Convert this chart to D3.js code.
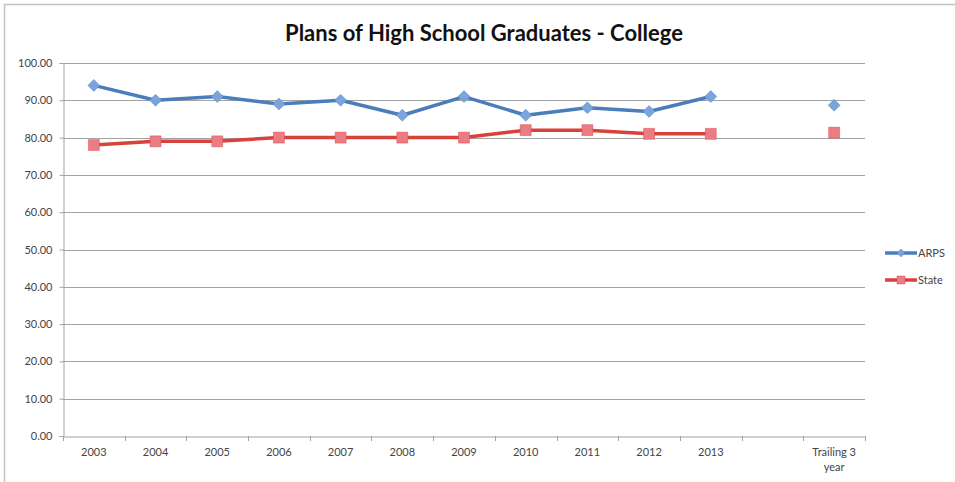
<!DOCTYPE html>
<html><head><meta charset="utf-8">
<script src="https://cdn.jsdelivr.net/npm/d3@7/dist/d3.min.js"></script>
<style>body{margin:0;background:#fff}svg{display:block}</style>
</head><body>
<svg id="c" width="955" height="482"></svg>
<script>
const categories = ["2003","2004","2005","2006","2007","2008","2009","2010","2011","2012","2013","","Trailing 3 year"];
const arps  = [94, 90, 91, 89, 90, 86, 91, 86, 88, 87, 91, null, 88.67];
const state = [78, 79, 79, 80, 80, 80, 80, 82, 82, 81, 81, null, 81.33];
const yTicks = [0,10,20,30,40,50,60,70,80,90,100];
const title = "Plans of High School Graduates - College";

const svg = d3.select("#c");
const L = 63, R = 865, T = 63, B = 436;
const x = d3.scaleBand().domain(categories.map((c,i)=>i)).range([L,R]);
const y = d3.scaleLinear().domain([0,100]).range([B,T]);
const font = "Lato, 'Open Sans', sans-serif";
const gridC = "#a3a3a3";

svg.append("rect").attr("x",4.5).attr("y",4.5).attr("width",955).attr("height",490)
  .attr("fill","none").attr("stroke","#c4c4c4").attr("stroke-width",1.5);

svg.append("text").attr("x",484).attr("y",41).attr("text-anchor","middle")
  .attr("font-family",font).attr("font-weight","bold").attr("font-size",22)
  .attr("fill","#111").text(title);

svg.append("g").selectAll("line").data(yTicks.filter(d=>d>0)).join("line")
  .attr("x1",L).attr("x2",R).attr("y1",d=>Math.round(y(d))+0.5).attr("y2",d=>Math.round(y(d))+0.5)
  .attr("stroke",gridC).attr("stroke-width",1);

const ya = svg.append("g").attr("transform",`translate(${L+0.5},0)`)
  .call(d3.axisLeft(y).tickValues(yTicks).tickFormat(d3.format(".2f")).tickSize(4).tickPadding(7));
ya.select(".domain").attr("stroke",gridC);
ya.selectAll(".tick line").attr("stroke",gridC);
ya.selectAll(".tick text").attr("font-family",font).attr("font-size",11).attr("fill","#444");

const xa = svg.append("g").attr("transform",`translate(0,${B+0.5})`)
  .call(d3.axisBottom(x).tickSize(0).tickPadding(10).tickFormat(()=>""));
xa.select(".domain").attr("stroke",gridC);
svg.append("g").selectAll("line").data(categories.map((c,i)=>i).concat([categories.length])).join("line")
  .attr("x1",i=>Math.round(L + i*x.step())+0.5).attr("x2",i=>Math.round(L + i*x.step())+0.5)
  .attr("y1",B).attr("y2",B+5).attr("stroke",gridC);
const lab = svg.append("g").selectAll("text").data(categories.map((c,i)=>({c,i}))).join("text")
  .attr("x",d=>x(d.i)+x.bandwidth()/2).attr("y",B+20).attr("text-anchor","middle")
  .attr("font-family",font).attr("font-size",11).attr("fill","#444");
lab.each(function(d){
  const t = d3.select(this);
  if (d.c === "Trailing 3 year") {
    t.append("tspan").attr("x",x(d.i)+x.bandwidth()/2).attr("dy",0).text("Trailing 3");
    t.append("tspan").attr("x",x(d.i)+x.bandwidth()/2).attr("dy",15).text("year");
  } else t.text(d.c);
});

const cx = i => x(i)+x.bandwidth()/2;
const line = d3.line().defined(d=>d.v!=null).x(d=>cx(d.i)).y(d=>y(d.v));
const diamond = r => `M0,${-r}L${r},0L0,${r}L${-r},0Z`;
const square = r => `M${-r},${-r}H${r}V${r}H${-r}Z`;
const seriesList = [
  {name:"ARPS", data:arps, stroke:"#4a7ebb", fill:"#7aa5dc", mk:diamond, r:6},
  {name:"State", data:state, stroke:"#d9413b", fill:"#ec7c84", mk:square, r:5.5}
];
seriesList.forEach(s=>{
  const pts = s.data.map((v,i)=>({v,i}));
  svg.append("path").datum(pts.slice(0,11)).attr("d",line).attr("fill","none")
    .attr("stroke",s.stroke).attr("stroke-width",3.5).attr("stroke-linejoin","round");
  svg.append("g").selectAll("path").data(pts.filter(d=>d.v!=null)).join("path")
    .attr("d",s.mk(s.r)).attr("transform",d=>`translate(${cx(d.i)},${y(d.v)})`)
    .attr("fill",s.fill).attr("stroke",s.stroke).attr("stroke-width",0.7).attr("stroke-opacity",0.6);
});

const leg = [{name:"ARPS", s:seriesList[0], y:253},{name:"State", s:seriesList[1], y:280}];
leg.forEach(l=>{
  svg.append("line").attr("x1",885).attr("x2",917).attr("y1",l.y).attr("y2",l.y)
    .attr("stroke",l.s.stroke).attr("stroke-width",3.5);
  svg.append("path").attr("d",l.s.mk(4)).attr("transform",`translate(901,${l.y})`)
    .attr("fill",l.s.fill).attr("stroke",l.s.stroke).attr("stroke-width",0.7).attr("stroke-opacity",0.6);
  svg.append("text").attr("x",918).attr("y",l.y+4).attr("font-family",font).attr("font-size",11)
    .attr("fill","#444").text(l.name);
});
</script>
</body></html>
